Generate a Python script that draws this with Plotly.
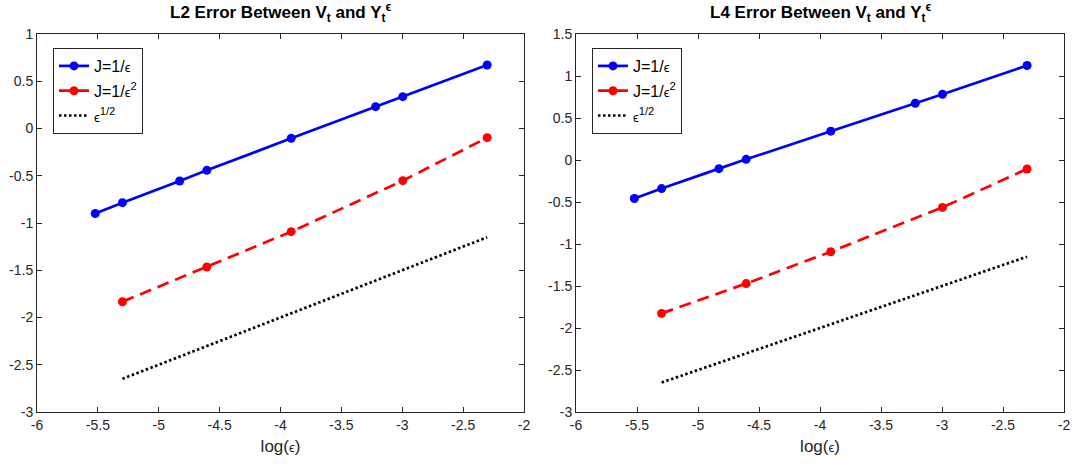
import plotly.graph_objects as go

# ---- data ----
x_j1 = [-5.5215, -5.2983, -4.8283, -4.6052, -3.9120, -3.2189, -2.9957, -2.3026]
x_j2 = [-5.2983, -4.6052, -3.9120, -2.9957, -2.3026]
x_ref = [-5.2983, -2.3026]

l2_j1 = [-0.90, -0.785, -0.556, -0.443, -0.104, 0.231, 0.337, 0.672]
l2_j2 = [-1.833, -1.466, -1.092, -0.552, -0.097]
l2_ref = [-2.649, -1.151]

l4_j1 = [-0.458, -0.34, -0.103, 0.008, 0.343, 0.675, 0.782, 1.125]
l4_j2 = [-1.826, -1.471, -1.092, -0.564, -0.107]
l4_ref = [-2.649, -1.151]

x_ticks = [-6, -5.5, -5, -4.5, -4, -3.5, -3, -2.5, -2]
x_ticktext = ["-6", "-5.5", "-5", "-4.5", "-4", "-3.5", "-3", "-2.5", "-2"]
y1_ticks = [-3, -2.5, -2, -1.5, -1, -0.5, 0, 0.5, 1]
y1_ticktext = ["-3", "-2.5", "-2", "-1.5", "-1", "-0.5", "0", "0.5", "1"]
y2_ticks = [-3, -2.5, -2, -1.5, -1, -0.5, 0, 0.5, 1, 1.5]
y2_ticktext = ["-3", "-2.5", "-2", "-1.5", "-1", "-0.5", "0", "0.5", "1", "1.5"]

EPS = "<span style='font-size:13px'>ϵ</span>"
names = ["J=1/" + EPS, "J=1/" + EPS + "<sup>2</sup>", EPS + "<sup>1/2</sup>"]
titles = ["L2 Error Between V<sub>t</sub> and Y<sub>t</sub><sup>ϵ</sup>",
          "L4 Error Between V<sub>t</sub> and Y<sub>t</sub><sup>ϵ</sup>"]
xlabel = "log(<span style='font-size:13px'>ϵ</span>)"

W, H = 1075, 467
FONT = "Liberation Sans, Arial, Helvetica, sans-serif"
AX = "#262626"

fig = go.Figure()

def add_panel(i, yj1, yj2, yref):
    xa = "x" if i == 0 else "x2"
    ya = "y" if i == 0 else "y2"
    lg = "legend" if i == 0 else "legend2"
    fig.add_trace(go.Scatter(x=x_j1, y=yj1, mode="lines+markers", name=names[0],
                             line=dict(color="#0000ff", width=2.7),
                             marker=dict(size=9, color="#0000ff"),
                             legendgroup=f"a{i}",
                             xaxis=xa, yaxis=ya, legend=lg))
    fig.add_trace(go.Scatter(x=x_j2, y=yj2, mode="lines+markers", name=names[1],
                             line=dict(color="#ff0000", width=2.7, dash="12px,7px"),
                             marker=dict(size=9, color="#ff0000"),
                             legendgroup=f"b{i}",
                             xaxis=xa, yaxis=ya, legend=lg))
    fig.add_trace(go.Scatter(x=x_ref, y=yref, mode="lines", name=names[2],
                             line=dict(color="#000000", width=2.7, dash="2.5px,2.5px"),
                             legendgroup=f"c{i}",
                             xaxis=xa, yaxis=ya, legend=lg))

add_panel(0, l2_j1, l2_j2, l2_ref)
add_panel(1, l4_j1, l4_j2, l4_ref)

dom1 = [37 / W, 524 / W]
dom2 = [576 / W, 1064 / W]
ydom = [1 - 412 / H, 1 - 34 / H]

axcommon = dict(showgrid=False, zeroline=False, showline=True, mirror="ticks",
                linecolor=AX, linewidth=1, ticks="inside", ticklen=5,
                tickcolor=AX, automargin=False,
                tickfont=dict(family=FONT, size=14, color=AX))

legcommon = dict(xanchor="left", yanchor="top",
                 bordercolor=AX, borderwidth=1, bgcolor="white",
                 font=dict(family=FONT, size=16, color="#000"),
                 tracegroupgap=1, itemwidth=30)

fig.update_layout(
    width=W, height=H,
    margin=dict(l=0, r=0, t=0, b=0, autoexpand=False),
    paper_bgcolor="white", plot_bgcolor="white",
    font=dict(family=FONT, color=AX),
    xaxis=dict(domain=dom1, range=[-6, -2], tickvals=x_ticks, ticktext=x_ticktext,
               anchor="y", title=dict(text=xlabel, font=dict(size=17), standoff=8),
               **axcommon),
    yaxis=dict(domain=ydom, range=[-3, 1], tickvals=y1_ticks, ticktext=y1_ticktext,
               anchor="x", **axcommon),
    xaxis2=dict(domain=dom2, range=[-6, -2], tickvals=x_ticks, ticktext=x_ticktext,
                anchor="y2", title=dict(text=xlabel, font=dict(size=17), standoff=8),
                **axcommon),
    yaxis2=dict(domain=ydom, range=[-3, 1.5], tickvals=y2_ticks, ticktext=y2_ticktext,
                anchor="x2", **axcommon),
    legend=dict(x=53 / W, y=1 - 48 / H, **legcommon),
    legend2=dict(x=592 / W, y=1 - 48 / H, **legcommon),
    showlegend=True,
)

for i, dom in enumerate([dom1, dom2]):
    fig.add_annotation(text="<b>" + titles[i] + "</b>", xref="paper", yref="paper",
                       x=(dom[0] + dom[1]) / 2, y=1 - 13 / H, xanchor="center",
                       yanchor="middle", showarrow=False,
                       font=dict(family=FONT, size=17, color="#000"))

fig.write_html("out.html")
